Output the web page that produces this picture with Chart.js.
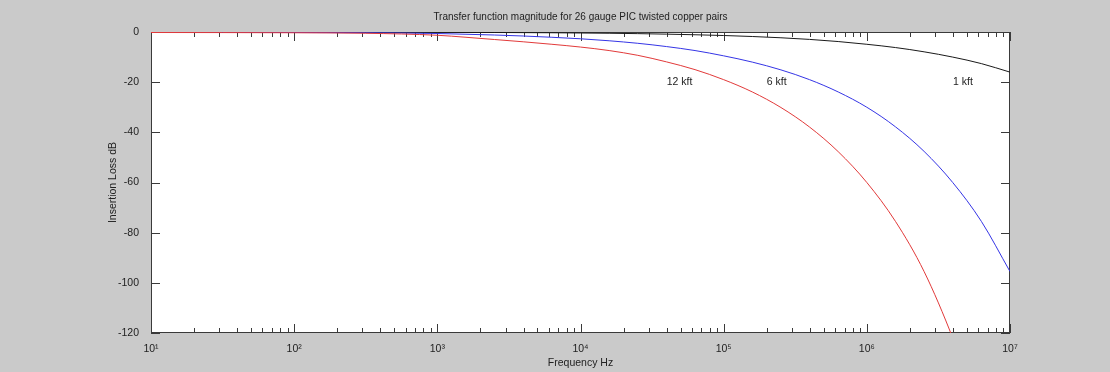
<!DOCTYPE html>
<html>
<head>
<meta charset="utf-8">
<script src="https://cdn.jsdelivr.net/npm/chart.js@4"></script>
<style>
  html, body { margin: 0; padding: 0; background: #cacaca; }
  #wrap { width: 1110px; height: 372px; }
</style>
</head>
<body>
<div id="wrap"><canvas id="c" width="1110" height="372"></canvas></div>
<script>
// ---- data ----
const chartTitle = "Transfer function magnitude for 26 gauge PIC twisted copper pairs";
const xTitle = "Frequency Hz";
const yTitle = "Insertion Loss dB";

const freqHz = [10, 100, 316, 1000, 1585, 2512, 3981, 6310,
                1e4, 15849, 25119, 39811, 63096,
                1e5, 158489, 251189, 398107, 630957,
                1e6, 1584893, 2511886, 3981072, 6309573, 1e7];

const loss12kft = [-0.2, -0.3, -0.5, -1.3, -2.1, -3.0, -3.9, -4.9,
                   -6.0, -7.4, -9.3, -11.9, -15.0,
                   -19.0, -23.9, -30.1, -37.9, -47.7,
                   -60, -75.5, -95.5, -122, -154, null];
const loss6kft  = [-0.1, -0.2, -0.3, -0.6, -0.9, -1.2, -1.6, -2.1,
                   -2.7, -3.5, -4.5, -5.8, -7.4,
                   -9.5, -12.0, -15.1, -19.0, -23.9,
                   -30.0, -37.8, -47.6, -60, -75.5, -95.5];
const loss1kft  = [0, 0, 0, -0.1, -0.15, -0.2, -0.25, -0.3,
                   -0.4, -0.5, -0.65, -0.85, -1.1,
                   -1.4, -1.8, -2.3, -2.95, -3.8,
                   -4.9, -6.2, -7.9, -10.0, -12.6, -16.0];

const seriesNames = ["12 kft", "6 kft", "1 kft"];
const seriesColors = ["#e23a3a", "#3535e6", "#1a1a1a"];

// curve label anchors (data coords: Hz, dB)
const labelFreq = [4e4, 2e5, 4e6];
const labelLoss = [-20, -20, -20];

const xMajorTicks = [10, 100, 1000, 1e4, 1e5, 1e6, 1e7];
const yTicks = [0, -20, -40, -60, -80, -100, -120];

// ---- chart ----
const sup = {"0":"⁰","1":"¹","2":"²","3":"³","4":"⁴","5":"⁵","6":"⁶","7":"⁷","8":"⁸","9":"⁹"};
function powLabel(v) {
  const e = Math.round(Math.log10(v));
  return "10" + String(e).split("").map(d => sup[d]).join("");
}
const FONT = "'Liberation Sans', Arial, sans-serif";
const TXT = "#222";

const allSeries = [loss12kft, loss6kft, loss1kft];
const datasets = allSeries.map((arr, i) => ({
  label: seriesNames[i],
  data: freqHz.map((f, j) => ({x: f, y: arr[j]})),
  borderColor: seriesColors[i],
  backgroundColor: seriesColors[i],
  borderWidth: 1,
  pointRadius: 0,
  fill: false,
  spanGaps: false,
  cubicInterpolationMode: 'monotone'
}));

const framePlugin = {
  id: 'frame',
  beforeDraw(chart) {
    const {ctx, chartArea: a} = chart;
    ctx.save();
    ctx.fillStyle = '#cacaca';
    ctx.fillRect(0, 0, chart.width, chart.height);
    ctx.fillStyle = '#ffffff';
    ctx.fillRect(a.left, a.top, a.right - a.left, a.bottom - a.top);
    ctx.restore();
  },
  beforeDatasetsDraw(chart) {
    const {ctx, chartArea: a, scales} = chart;
    const xs = scales.x, ys = scales.y;
    ctx.save();
    ctx.strokeStyle = '#3a3a3a';
    ctx.lineWidth = 1;
    ctx.strokeRect(Math.round(a.left) + 0.5, Math.round(a.top) + 0.5,
                   Math.round(a.right - a.left) - 1, Math.round(a.bottom - a.top) - 1);
    ctx.beginPath();
    for (let d = 0; d < xMajorTicks.length; d++) {
      const base = xMajorTicks[d];
      for (let k = 1; k <= 9; k++) {
        const v = base * k;
        if (v > xs.max * 1.0001) break;
        const px = Math.round(xs.getPixelForValue(v)) + 0.5;
        const len = (k === 1) ? 9 : 5;
        ctx.moveTo(px, a.bottom); ctx.lineTo(px, a.bottom - len);
        ctx.moveTo(px, a.top); ctx.lineTo(px, a.top + len);
      }
    }
    yTicks.forEach(v => {
      const py = Math.round(ys.getPixelForValue(v)) + 0.5;
      ctx.moveTo(a.left, py); ctx.lineTo(a.left + 9, py);
      ctx.moveTo(a.right, py); ctx.lineTo(a.right - 9, py);
    });
    ctx.stroke();
    ctx.restore();
  },
  afterDraw(chart) {
    const {ctx, chartArea: a, scales} = chart;
    ctx.save();
    ctx.fillStyle = TXT;
    ctx.font = "10px " + FONT;
    ctx.textAlign = 'center';
    ctx.textBaseline = 'middle';
    ctx.fillText(chartTitle, (a.left + a.right) / 2, 17);
    ctx.font = "10.5px " + FONT;
    ctx.fillText(xTitle, (a.left + a.right) / 2, 363);
    ctx.save();
    ctx.translate(113, (a.top + a.bottom) / 2);
    ctx.rotate(-Math.PI / 2);
    ctx.fillText(yTitle, 0, 0);
    ctx.restore();
    ctx.textAlign = 'left';
    labelFreq.forEach((f, i) => {
      ctx.fillText(seriesNames[i], scales.x.getPixelForValue(f), scales.y.getPixelForValue(labelLoss[i]));
    });
    ctx.restore();
  }
};

new Chart(document.getElementById('c'), {
  type: 'line',
  data: { datasets },
  options: {
    responsive: false,
    animation: false,
    events: [],
    layout: { padding: { top: 32, right: 100, left: 0, bottom: 0 } },
    plugins: { legend: { display: false }, title: { display: false }, tooltip: { enabled: false } },
    scales: {
      x: {
        type: 'logarithmic',
        min: 10, max: 1e7,
        grid: { display: false },
        border: { display: false },
        afterBuildTicks(s) { s.ticks = xMajorTicks.map(v => ({value: v})); },
        afterFit(s) { s.height = 39; },
        ticks: {
          autoSkip: false, maxRotation: 0, padding: 2,
          color: TXT, font: { family: FONT, size: 10.5 },
          callback: (v) => powLabel(v)
        }
      },
      y: {
        type: 'linear',
        min: -120, max: 0,
        grid: { display: false },
        border: { display: false },
        afterBuildTicks(s) { s.ticks = yTicks.map(v => ({value: v})); },
        afterFit(s) { s.width = 151; },
        ticks: {
          padding: 4, color: TXT, font: { family: FONT, size: 10.5 },
          callback: (v) => String(v)
        }
      }
    }
  },
  plugins: [framePlugin]
});
</script>
</body>
</html>
